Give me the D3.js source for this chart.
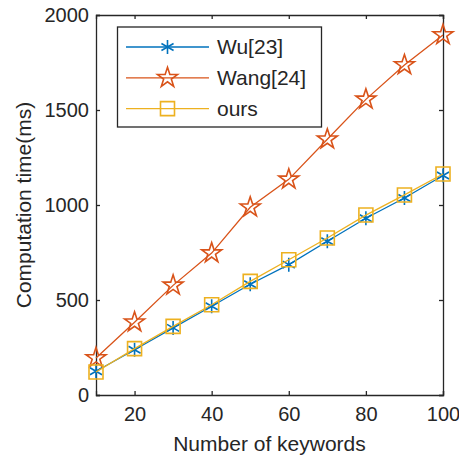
<!DOCTYPE html>
<html>
<head>
<meta charset="utf-8">
<script src="https://cdn.jsdelivr.net/npm/d3@7"></script>
<style>
  body { margin: 0; background: #fff; }
  text { font-family: "Liberation Sans", Arial, Helvetica, sans-serif; fill: #262626; }
</style>
</head>
<body>
<svg id="chart"></svg>
<script>
const keywords = [10, 20, 30, 40, 50, 60, 70, 80, 90, 100];
const wu = [125, 238, 353, 467, 583, 686, 809, 930, 1037, 1155];
const wang = [195, 383, 577, 747, 988, 1135, 1346, 1556, 1737, 1895];
const ours = [121, 244, 361, 475, 598, 712, 826, 947, 1053, 1163];
const xTicks = [20, 40, 60, 80, 100];
const yTicks = [0, 500, 1000, 1500, 2000];
const seriesNames = ["Wu[23]", "Wang[24]", "ours"];

const W = 459, H = 457;
const mLeft = 96, mRight = 443, mTop = 15, mBottom = 395;
const axisColor = "#262626";

var svg = d3.select("#chart").attr("width", W).attr("height", H);

var x = d3.scaleLinear().domain([10, 100]).range([mLeft, mRight]);
var y = d3.scaleLinear().domain([0, 2000]).range([mBottom, mTop]);

/* pentagram marker, hollow like matlab */
function pentagram(r) {
    var pts = [];
    for (var i = 0; i < 10; i++) {
        var rad = i % 2 == 0 ? r : r * 0.382;
        var a = -Math.PI / 2 + i * Math.PI / 5;
        pts.push([rad * Math.cos(a), rad * Math.sin(a)]);
    }
    return "M" + pts.map(p => p.join(",")).join("L") + "Z";
}
function asterisk(r) {
    var d = "";
    [90, 30, -30].forEach(function (deg) {
        var a = deg * Math.PI / 180;
        d += "M" + (-r * Math.cos(a)) + "," + (-r * Math.sin(a)) + "L" + (r * Math.cos(a)) + "," + (r * Math.sin(a));
    });
    return d;
}
function square(s) {
    return "M" + (-s) + "," + (-s) + "H" + s + "V" + s + "H" + (-s) + "Z";
}

const series = [
    { name: seriesNames[0], values: wu, color: "#0072BD", marker: asterisk(7), fill: "none" },
    { name: seriesNames[1], values: wang, color: "#D95319", marker: pentagram(10.5), fill: "none" },
    { name: seriesNames[2], values: ours, color: "#EDB120", marker: square(7), fill: "none" }
];

/* axes: matlab box with inward ticks */
var xAxis = svg.append("g").attr("transform", "translate(0," + mBottom + ")")
    .call(d3.axisBottom(x).tickValues(xTicks).tickSize(-4).tickPadding(12).tickFormat(d3.format("d")));
var xTop = svg.append("g").attr("transform", "translate(0," + mTop + ")")
    .call(d3.axisTop(x).tickValues(xTicks).tickSize(-4).tickFormat(""));
var yAxis = svg.append("g").attr("transform", "translate(" + mLeft + ",0)")
    .call(d3.axisLeft(y).tickValues(yTicks).tickSize(-4).tickPadding(7).tickFormat(d3.format("d")));
var yRight = svg.append("g").attr("transform", "translate(" + mRight + ",0)")
    .call(d3.axisRight(y).tickValues(yTicks).tickSize(-4).tickFormat(""));

[xAxis, xTop, yAxis, yRight].forEach(function (g) {
    g.select(".domain").attr("stroke", axisColor).attr("stroke-width", 1.3);
    g.selectAll(".tick line").attr("stroke", axisColor).attr("stroke-width", 1.3);
    g.selectAll(".tick text").attr("font-size", 20).attr("fill", axisColor)
        .style("font-family", "Liberation Sans, Arial, sans-serif");
});

var line = d3.line().x((d, i) => x(keywords[i])).y(d => y(d));

series.forEach(function (s) {
    svg.append("path")
        .attr("d", line(s.values))
        .attr("fill", "none")
        .attr("stroke", s.color)
        .attr("stroke-width", 1.3);
    svg.selectAll(null)
        .data(s.values)
        .enter().append("path")
        .attr("transform", (d, i) => "translate(" + x(keywords[i]) + "," + y(d) + ")")
        .attr("d", s.marker)
        .attr("fill", s.fill)
        .attr("stroke", s.color)
        .attr("stroke-width", 1.6);
});

/* axis labels */
svg.append("text")
    .attr("x", (mLeft + mRight) / 2)
    .attr("y", 451)
    .attr("text-anchor", "middle")
    .attr("font-size", 21)
    .text("Number of keywords");

svg.append("text")
    .attr("transform", "translate(31," + ((mTop + mBottom) / 2) + ") rotate(-90)")
    .attr("text-anchor", "middle")
    .attr("font-size", 21)
    .text("Computation time(ms)");

/* legend */
var legend = svg.append("g");
legend.append("rect")
    .attr("x", 117.5).attr("y", 27)
    .attr("width", 204).attr("height", 100)
    .attr("fill", "#fff")
    .attr("stroke", axisColor)
    .attr("stroke-width", 1.3);

series.forEach(function (s, i) {
    var ly = 47 + i * 30.8;
    legend.append("line")
        .attr("x1", 126).attr("x2", 209)
        .attr("y1", ly).attr("y2", ly)
        .attr("stroke", s.color).attr("stroke-width", 1.3);
    legend.append("path")
        .attr("transform", "translate(167.5," + ly + ")")
        .attr("d", s.marker)
        .attr("fill", s.fill)
        .attr("stroke", s.color)
        .attr("stroke-width", 1.6);
    legend.append("text")
        .attr("x", 217)
        .attr("y", ly + 7)
        .attr("font-size", 21)
        .text(s.name);
});
</script>
</body>
</html>
